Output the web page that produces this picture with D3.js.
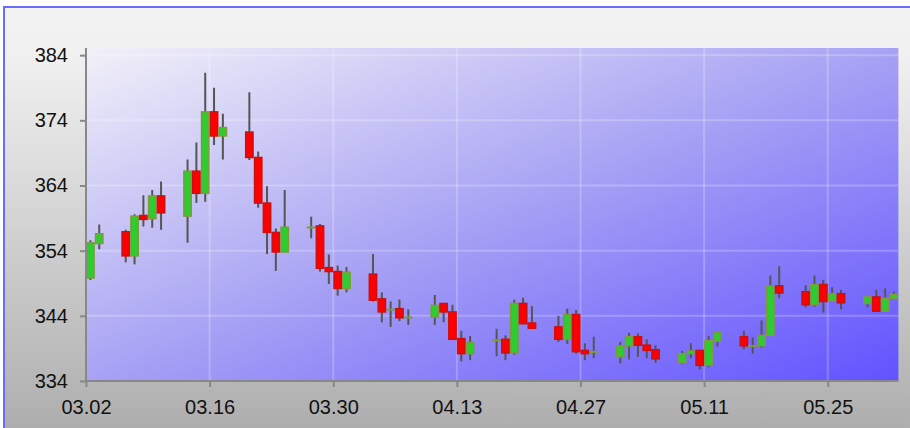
<!DOCTYPE html>
<html><head><meta charset="utf-8">
<script src="https://cdn.jsdelivr.net/npm/d3@7"></script>
<style>html,body{margin:0;padding:0;background:#fff;overflow:hidden}</style>
</head><body>
<svg id="chart" width="910" height="428"></svg>
<script>
// ---- data ----
const dates = ["03-02","03-03","03-06","03-07","03-08","03-09","03-10","03-13","03-14","03-15","03-16","03-17",
"03-20","03-21","03-22","03-23","03-24","03-27","03-28","03-29","03-30","03-31","04-03","04-04","04-05","04-06","04-07",
"04-10","04-11","04-12","04-13","04-14","04-17","04-18","04-19","04-20","04-21","04-24","04-25","04-26","04-27","04-28",
"05-01","05-02","05-03","05-04","05-05","05-08","05-09","05-10","05-11","05-12","05-15","05-16","05-17","05-18","05-19",
"05-22","05-23","05-24","05-25","05-26","05-29","05-30","05-31","06-01"];
const openV  = [349.8,355.1,356.9,353.2,359.4,358.9,362.4,359.3,366.2,362.8,375.3,371.6,
372.2,368.3,361.3,356.8,353.8,357.6,357.8,351.4,350.8,348.2,350.4,346.6,345.0,345.1,343.8,
343.8,345.9,344.6,340.5,338.2,340.3,340.4,338.3,345.9,342.9,342.3,340.4,344.2,338.7,338.5,
337.7,339.4,340.8,339.5,338.8,336.8,338.2,338.7,336.4,340.1,340.8,339.4,339.4,341.0,348.6,
347.7,345.7,348.8,346.3,347.4,345.9,346.9,344.7,346.7];
const highV  = [355.6,358.0,357.2,359.6,362.5,363.3,364.6,368.0,370.6,381.3,379.0,375.0,
378.3,369.2,363.9,357.4,363.3,359.2,358.1,353.4,351.7,351.5,353.5,347.6,346.2,346.5,345.0,
347.2,345.9,345.7,341.7,340.9,342.0,341.0,346.5,346.8,345.5,344.0,345.1,344.9,339.8,340.8,
340.0,341.4,341.3,340.4,339.5,338.6,339.8,338.7,340.9,341.4,341.7,340.7,343.3,350.2,351.6,
348.7,350.2,349.5,348.4,348.0,346.9,348.0,348.2,347.7];
const lowV   = [349.5,354.2,352.2,351.9,357.7,357.5,357.2,355.2,361.3,361.5,370.2,368.0,
367.9,360.6,353.5,350.9,353.8,355.9,350.8,348.9,347.1,347.6,346.2,343.0,342.3,343.2,342.6,
342.6,343.0,340.4,337.0,337.2,337.8,337.2,338.0,342.7,342.1,340.0,339.7,338.2,337.2,337.5,
336.7,337.3,337.7,337.5,336.8,336.6,337.5,335.8,336.1,339.3,338.9,338.2,339.1,340.9,346.7,
345.3,345.4,344.5,346.3,345.0,345.3,344.6,344.7,346.7];
const closeV = [355.2,356.6,353.2,359.3,358.8,362.4,359.8,366.2,362.8,375.3,371.6,372.9,
368.3,361.3,356.8,353.8,357.6,357.6,351.3,350.8,348.2,350.7,346.4,344.6,345.0,343.7,343.8,
345.6,344.6,340.4,338.2,339.9,340.3,338.3,345.9,342.8,342.1,340.4,344.2,338.5,338.2,338.5,
339.4,340.8,339.5,338.7,337.4,338.2,338.6,336.4,340.2,341.4,339.4,339.4,341.0,348.6,347.5,
345.7,348.8,346.2,347.4,346.0,346.9,344.7,346.7,347.3];
const year = 2017;
const yTicks = [334,344,354,364,374,384];
const xTickLabels = ["03.02","03.16","03.30","04.13","04.27","05.11","05.25"];

// ---- layout ----
const svg = d3.select("#chart");
const W = 910, H = 428;
const plot = {left:86, top:48, right:898.4, bottom:381};
const parse = s => new Date(Date.UTC(year, +s.slice(0,2)-1, +s.slice(3,5)));
const rows = dates.map((d,i)=>({date:parse(d), o:openV[i], h:highV[i], l:lowV[i], c:closeV[i]}));

const x = d3.scaleUtc().domain([parse("03-02"), parse("06-02")]).range([plot.left, plot.right]);
const y = d3.scaleLinear().domain([334, 385.1]).range([plot.bottom, plot.top]);
const dayW = x(parse("03-03")) - x(parse("03-02"));

const defs = svg.append("defs");
const bg = defs.append("linearGradient").attr("id","bgGrad").attr("x1",0).attr("y1",0).attr("x2",0).attr("y2",1);
bg.append("stop").attr("offset","0").attr("stop-color","#f3f3f3");
bg.append("stop").attr("offset","0.12").attr("stop-color","#f0f0f0");
bg.append("stop").attr("offset","1").attr("stop-color","#a9a9a9");
const pg = defs.append("linearGradient").attr("id","plotGrad").attr("x1",0).attr("y1",0).attr("x2",1).attr("y2",1);
pg.append("stop").attr("offset","0").attr("stop-color","#f2f1f8");
pg.append("stop").attr("offset","0.5").attr("stop-color","#a7a2f4");
pg.append("stop").attr("offset","1").attr("stop-color","#6252ff");
defs.append("clipPath").attr("id","plotClip").append("rect")
  .attr("x",plot.left).attr("y",plot.top).attr("width",plot.right-plot.left).attr("height",plot.bottom-plot.top);

// outer background + border
svg.append("rect").attr("x",4).attr("y",7).attr("width",W+20).attr("height",H+20)
  .attr("fill","url(#bgGrad)").attr("stroke","#6a6aff").attr("stroke-width",2);

// plot background
svg.append("rect").attr("x",plot.left).attr("y",plot.top)
  .attr("width",plot.right-plot.left).attr("height",plot.bottom-plot.top).attr("fill","url(#plotGrad)");

const xTickDates = xTickLabels.map(s => parse(s.replace(".","-")));

// grid
const grid = svg.append("g").attr("clip-path","url(#plotClip)");
grid.selectAll("line.h").data(yTicks.slice(1)).enter().append("line")
  .attr("x1",plot.left).attr("x2",plot.right).attr("y1",d=>y(d)).attr("y2",d=>y(d))
  .attr("stroke","rgba(255,255,255,0.22)").attr("stroke-width",2);
grid.selectAll("line.v").data(xTickDates.slice(1)).enter().append("line")
  .attr("y1",plot.top).attr("y2",plot.bottom).attr("x1",d=>x(d)).attr("x2",d=>x(d))
  .attr("stroke","rgba(255,255,255,0.22)").attr("stroke-width",2);

// candles
const cg = svg.append("g").attr("clip-path","url(#plotClip)");
cg.selectAll("line.wick").data(rows).enter().append("line")
  .attr("x1",d=>x(d.date)+dayW/2).attr("x2",d=>x(d.date)+dayW/2)
  .attr("y1",d=>y(d.h)).attr("y2",d=>y(d.l))
  .attr("stroke","#555").attr("stroke-width",2);
cg.selectAll("rect.body").data(rows).enter().append("rect")
  .attr("x",d=>x(d.date)+0.75).attr("width",dayW-1.5)
  .attr("y",d=>y(Math.max(d.o,d.c)))
  .attr("height",d=>Math.max(0.5, Math.abs(y(d.o)-y(d.c))))
  .attr("fill",d=>d.c>=d.o ? "#2fcc2f" : "#ff0000")
  .attr("stroke",d=>d.c>=d.o ? "#7c9c3c" : "#cc1010")
  .attr("stroke-width",1.5);

// axes
const yAxis = d3.axisLeft(y).tickValues(yTicks).tickSize(6).tickPadding(12);
const xAxis = d3.axisBottom(x).tickValues(xTickDates).tickSize(6).tickPadding(13)
  .tickFormat((d,i)=>xTickLabels[i]);
const ga = svg.append("g").attr("transform",`translate(${plot.left},0)`).call(yAxis);
const gb = svg.append("g").attr("transform",`translate(0,${plot.bottom})`).call(xAxis);
[ga,gb].forEach(g=>{
  g.select(".domain").remove();
  g.selectAll(".tick line").attr("stroke","#888").attr("stroke-width",2);
  g.selectAll(".tick text").attr("fill","#111").style("font-family","'Liberation Sans', Arial, sans-serif").style("font-size","20px");
});
svg.append("line").attr("x1",plot.left).attr("x2",plot.left).attr("y1",plot.top).attr("y2",plot.bottom+1)
  .attr("stroke","#888").attr("stroke-width",2);
svg.append("line").attr("x1",plot.left-1).attr("x2",plot.right).attr("y1",plot.bottom).attr("y2",plot.bottom)
  .attr("stroke","#888").attr("stroke-width",2);
</script>
</body></html>
